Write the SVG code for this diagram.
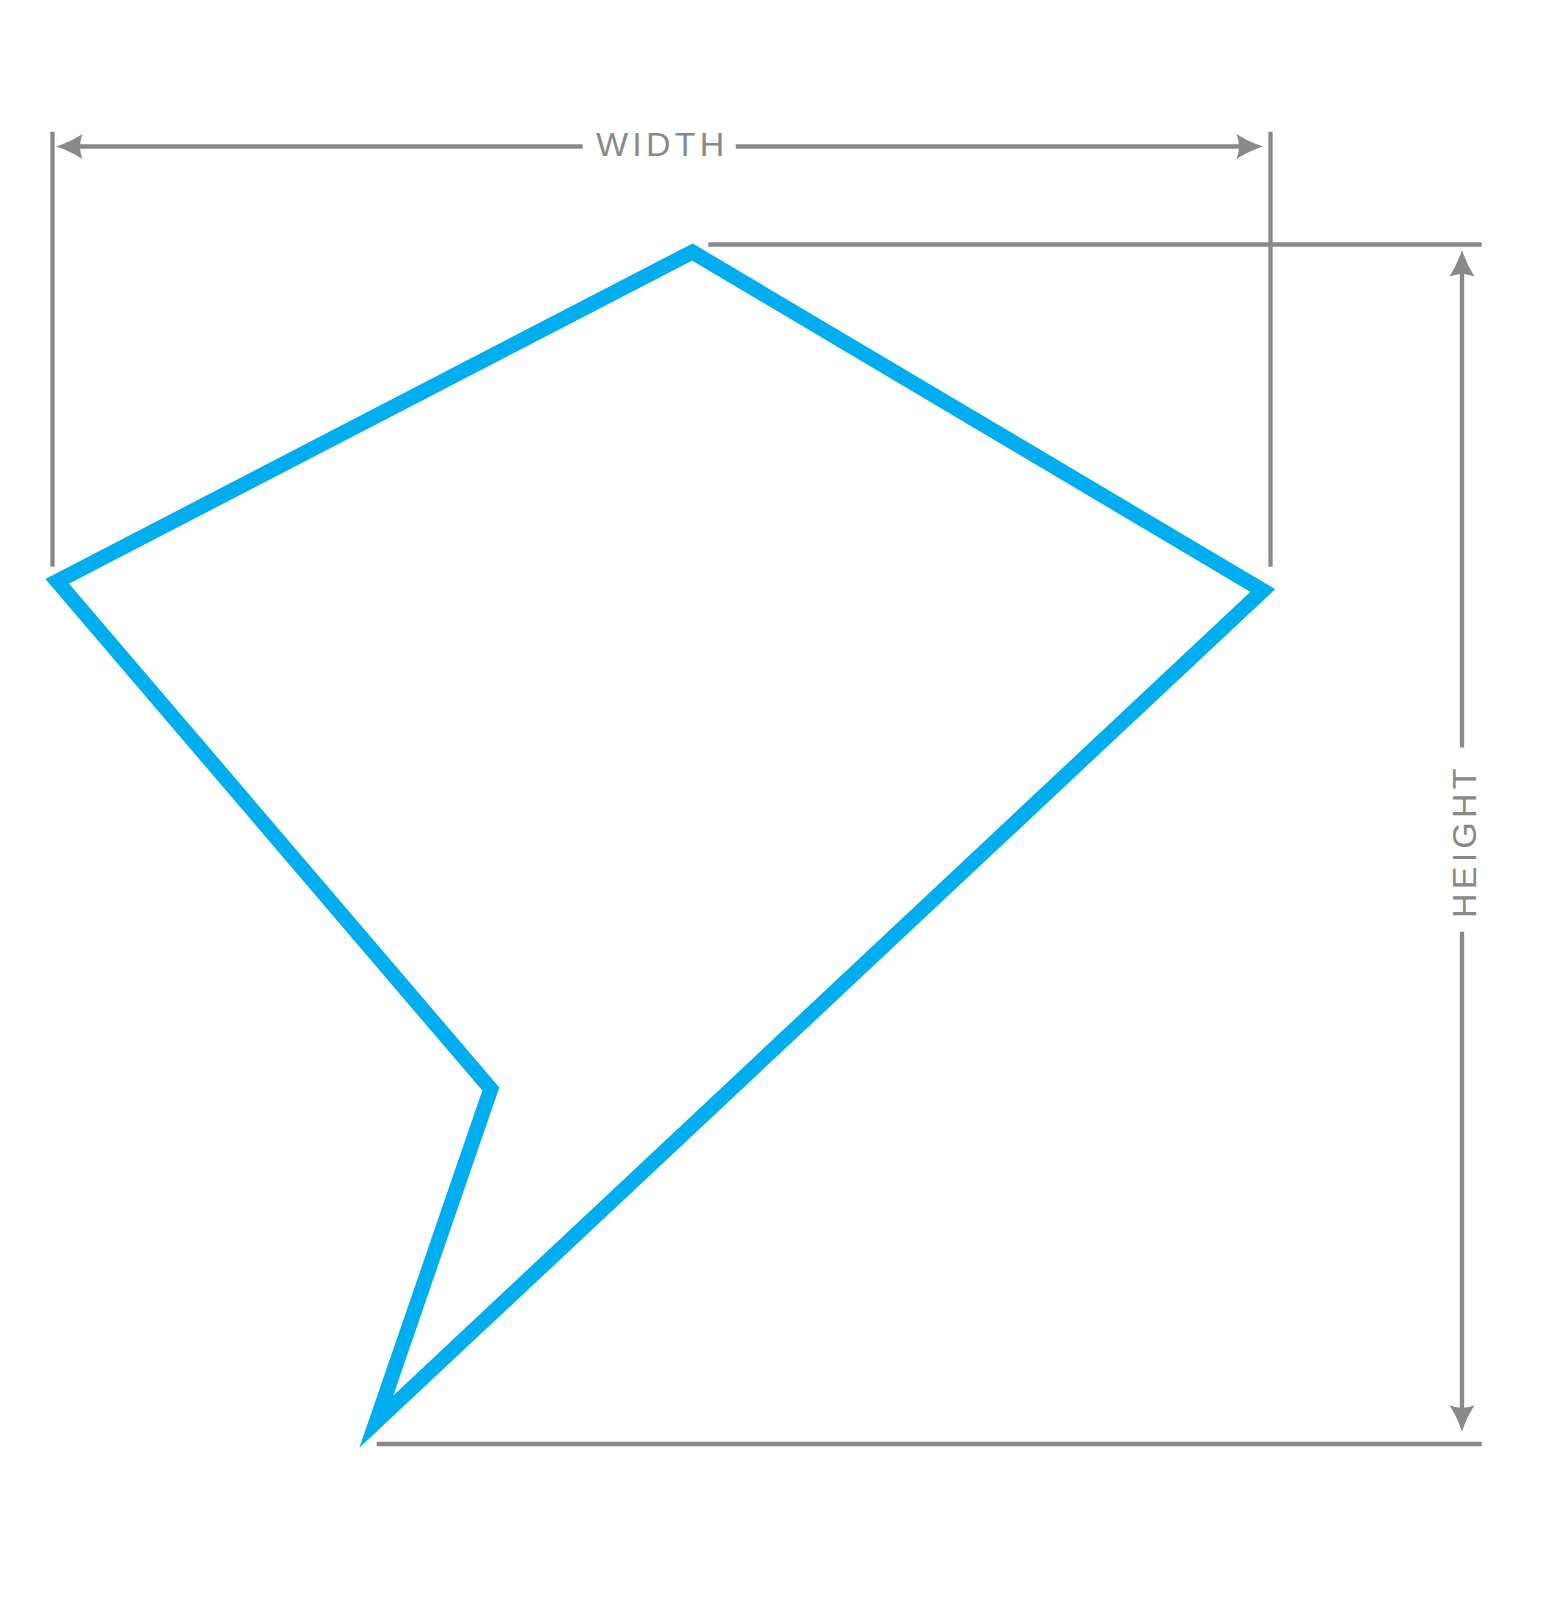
<svg xmlns="http://www.w3.org/2000/svg" width="1542" height="1599" viewBox="0 0 1542 1599">
  <style>
    .dim { stroke: #898989; stroke-width: 4.3; fill: none; }
    .head { fill: #898989; stroke: none; }
    .label { font-family: "Liberation Sans", Arial, sans-serif; font-size: 34px; fill: #898989; letter-spacing: 4.2px; }
    .shape { fill: none; stroke: #00AEEF; stroke-width: 15; stroke-linejoin: miter; stroke-miterlimit: 10; }
  </style>
  <rect width="1542" height="1599" fill="#ffffff"/>
  <g id="shape">
    <polygon class="shape" points="692.3,252 1262.8,590.5 376.3,1421.7 490.8,1089 57.2,581.3"/>
  </g>
  <g id="connectors">
    <line class="dim" x1="52.5" y1="131.7" x2="52.5" y2="566.7"/>
    <line class="dim" x1="1270.5" y1="131.7" x2="1270.5" y2="566.7"/>
    <line class="dim" x1="76" y1="146.5" x2="582.7" y2="146.5"/>
    <line class="dim" x1="735.7" y1="146.5" x2="1242" y2="146.5"/>
    <path class="head" d="M56,146.5 Q70,142 82.5,134 Q77.5,146.5 82.5,159 Q70,151 56,146.5 Z"/>
    <path class="head" d="M1263,146.5 Q1249,142 1236.5,134 Q1241.5,146.5 1236.5,159 Q1249,151 1263,146.5 Z"/>
    <line class="dim" x1="708.3" y1="244.5" x2="1481.7" y2="244.5"/>
    <line class="dim" x1="376.7" y1="1444" x2="1481.7" y2="1444"/>
    <line class="dim" x1="1462" y1="270" x2="1462" y2="747.5"/>
    <line class="dim" x1="1462" y1="931.7" x2="1462" y2="1412"/>
    <path class="head" d="M1462,250 Q1457.5,264 1449.5,276.5 Q1462,271.5 1474.5,276.5 Q1466.5,264 1462,250 Z"/>
    <path class="head" d="M1462,1431.7 Q1457.5,1417.7 1449.5,1405.2 Q1462,1410.2 1474.5,1405.2 Q1466.5,1417.7 1462,1431.7 Z"/>
  </g>
  <g id="labels">
    <text class="label" x="596" y="156">WIDTH</text>
    <text class="label" transform="translate(1475.5,918) rotate(-90)" x="0" y="0">HEIGHT</text>
  </g>
</svg>
